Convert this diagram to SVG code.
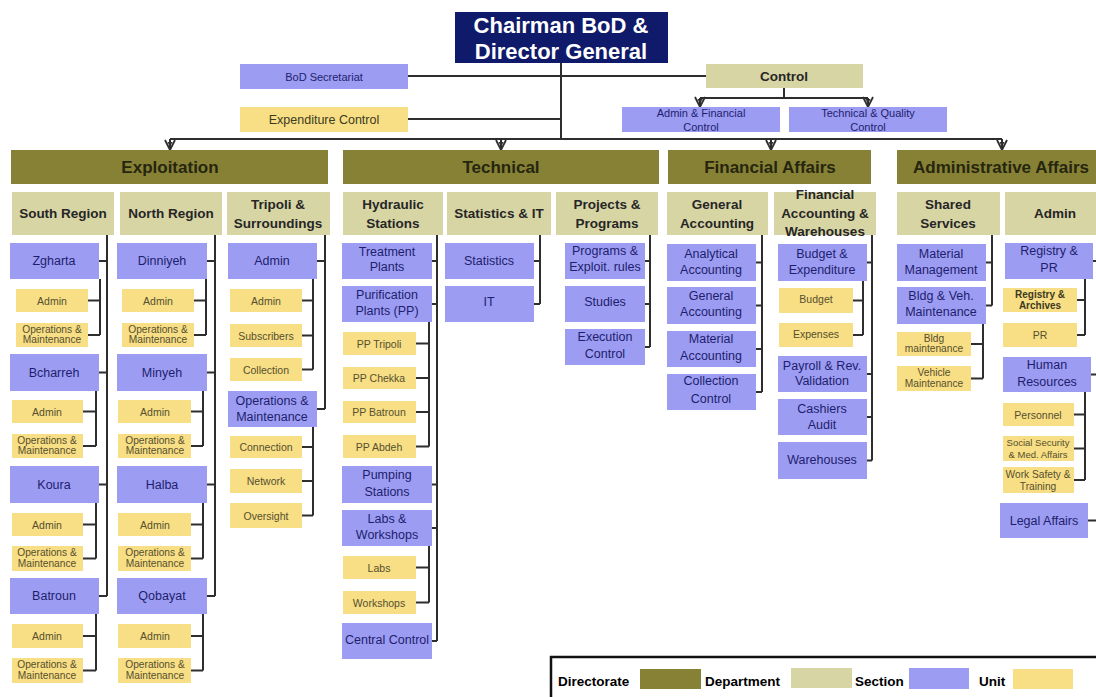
<svg xmlns="http://www.w3.org/2000/svg" width="1096" height="697" viewBox="0 0 1096 697">
<style>
text{font-family:"Liberation Sans",Arial,sans-serif;text-anchor:middle;dominant-baseline:central}
.navy{fill:#101a6a}.dir{fill:#878135}.dep{fill:#d8d5a5}.sec{fill:#9c9cf2}.unit{fill:#f8de85}
.tc{fill:#fff;font-weight:bold;font-size:22px}
.tdir{fill:#26260f;font-weight:bold;font-size:17px}
.td{fill:#262626;font-weight:bold;font-size:13.5px}
.ts{fill:#1e1e6e;font-size:12.5px}
.tsm{fill:#1e1e6e;font-size:11px}
.tu{fill:#55502e;font-size:10.5px}
.tus{fill:#55502e;font-size:10.2px}
.tl{fill:#000;font-weight:bold;font-size:13.5px;text-anchor:start}
.conn path{fill:none;stroke:#2e2e2e;stroke-width:2}
.conn path.a{marker-end:url(#arr)}
</style>
<defs>
<marker id="arr" viewBox="0 0 12 12" refX="11" refY="6" markerWidth="12" markerHeight="12" markerUnits="userSpaceOnUse" orient="auto">
<path d="M1,1 L11,6 L1,11" fill="none" stroke="#2e2e2e" stroke-width="1.8"/>
<path d="M3,3.5 L8,6 L3,8.5 Z" fill="#2e2e2e"/>
</marker>
</defs>
<rect width="1096" height="697" fill="#fff"/>

<g class="conn" id="connectors">
<path d="M408,76H706M561,63V139M408,119H561M170,139H1002M784,88V98M700,98H868"/>
<path class="a" d="M170,139V150"/>
<path class="a" d="M501,139V150"/>
<path class="a" d="M771,139V150"/>
<path class="a" d="M1002,139V150"/>
<path class="a" d="M700,98V107"/>
<path class="a" d="M868,98V107"/>
<path d="M107,235V596M99,261H107M99,372.5H107M99,484.5H107M99,596H107"/>
<path d="M100,279V335M88,300.5H100M88,335H100M96,391V446M83,411.5H96M83,446H96M96,503V558.5M83,524.5H96M83,558.5H96M96,614V670.5M83,636H96M83,670.5H96"/>
<path d="M215,235V596M207,261H215M207,372.5H215M207,484.5H215M207,596H215"/>
<path d="M206,279V335M194,300.5H206M194,335H206M203,391V446M191,411.5H203M191,446H203M203,503V558.5M191,524.5H203M191,558.5H203M203,614V670.5M191,636H203M191,670.5H203"/>
<path d="M325,235V409M317,261H325M317,409H325M313,279V369.5M302,300.5H313M302,335.5H313M302,369.5H313M313,427V515.5M302,447H313M302,481H313M302,515.5H313"/>
<path d="M437,235V641M432,261H437M432,304H437M432,484.5H437M432,528H437M432,641H437M429,322V446.5M416,343.5H429M416,378H429M416,412H429M416,446.5H429M429,546V602.5M416,567.5H429M416,602.5H429"/>
<path d="M540,235V304M534,261H540M534,304H540"/>
<path d="M650,235V347M645,261H650M645,304H650M645,347H650"/>
<path d="M762,235V392M756,262.5H762M756,305.5H762M756,349H762M756,392H762"/>
<path d="M872,235V460.5M867,262.5H872M867,374H872M867,417H872M867,460.5H872M863,281V335M853,300.5H863M853,335H863"/>
<path d="M992,235V305.5M986,262.5H992M986,305.5H992M983,324V378.5M971,344H983M971,378.5H983"/>
<path d="M1093,261H1096M1091,374.5H1096M1088,520.5H1096M1085,279V335M1077,300H1085M1077,335H1085M1085,392V480M1074,414.5H1085M1074,448.5H1085M1074,480H1085"/>
</g>

<g id="chairman"><rect class="navy" x="455" y="12" width="213" height="51"/><text class="tc" x="561" y="25">Chairman BoD &amp;</text><text class="tc" x="561" y="51">Director General</text></g>
<g id="bod-secretariat"><rect class="sec" x="240" y="64" width="168" height="25"/><text class="tsm" x="324" y="76.5">BoD Secretariat</text></g>
<g id="expenditure-control"><rect class="unit" x="240" y="107" width="168" height="25"/><text class="ts" x="324" y="119.5" style="fill:#3a3a20">Expenditure Control</text></g>
<g id="control"><rect class="dep" x="706" y="64" width="157" height="24"/><text class="td" x="784" y="76">Control</text></g>
<g id="admin-fin-control"><rect class="sec" x="622" y="107" width="158" height="25"/><text class="tsm" x="701" y="113">Admin &amp; Financial</text><text class="tsm" x="701" y="127">Control</text></g>
<g id="tech-quality-control"><rect class="sec" x="789" y="107" width="158" height="25"/><text class="tsm" x="868" y="113">Technical &amp; Quality</text><text class="tsm" x="868" y="127">Control</text></g>

<g id="exploitation"><rect class="dir" x="11" y="150" width="317" height="34"/><text class="tdir" x="170" y="167">Exploitation</text></g>
<g id="technical"><rect class="dir" x="343" y="150" width="316" height="34"/><text class="tdir" x="501" y="167">Technical</text></g>
<g id="financial-affairs"><rect class="dir" x="668" y="150" width="203" height="34"/><text class="tdir" x="770" y="167">Financial Affairs</text></g>
<g id="administrative-affairs"><rect class="dir" x="897" y="150" width="199" height="34"/><text class="tdir" x="1001" y="167">Administrative Affairs</text></g>

<g id="south-region"><rect class="dep" x="12" y="192" width="102" height="43"/><text class="td" x="63" y="213.5">South Region</text></g>
<g id="north-region"><rect class="dep" x="120" y="192" width="102" height="43"/><text class="td" x="171" y="213.5">North Region</text></g>
<g id="tripoli"><rect class="dep" x="227" y="192" width="103" height="43"/><text class="td" x="278" y="204">Tripoli &amp;</text><text class="td" x="278" y="223">Surroundings</text></g>
<g id="hydraulic"><rect class="dep" x="343" y="192" width="100" height="43"/><text class="td" x="393" y="204">Hydraulic</text><text class="td" x="393" y="223">Stations</text></g>
<g id="stats-it"><rect class="dep" x="447" y="192" width="104" height="43"/><text class="td" x="499" y="213">Statistics &amp; IT</text></g>
<g id="projects"><rect class="dep" x="556" y="192" width="102" height="43"/><text class="td" x="607" y="204">Projects &amp;</text><text class="td" x="607" y="223">Programs</text></g>
<g id="general-accounting"><rect class="dep" x="667" y="192" width="101" height="43"/><text class="td" x="717" y="204">General</text><text class="td" x="717" y="223">Accounting</text></g>
<g id="fin-acc-warehouses"><rect class="dep" x="774" y="192" width="102" height="43"/><text class="td" x="825" y="194">Financial</text><text class="td" x="825" y="213">Accounting &amp;</text><text class="td" x="825" y="231">Warehouses</text></g>
<g id="shared-services"><rect class="dep" x="897" y="192" width="103" height="43"/><text class="td" x="948" y="204">Shared</text><text class="td" x="948" y="223">Services</text></g>
<g id="admin-dept"><rect class="dep" x="1005" y="192" width="91" height="43"/><text class="td" x="1055" y="213">Admin</text></g>

<!-- South Region -->
<g id="zgharta"><rect class="sec" x="10" y="243" width="89" height="36"/><text class="ts" x="54" y="261">Zgharta</text></g>
<g id="zgharta-admin"><rect class="unit" x="16" y="289" width="72" height="23"/><text class="tu" x="52" y="300.5">Admin</text></g>
<g id="zgharta-om"><rect class="unit" x="16" y="323" width="72" height="24"/><text class="tus" x="52" y="329">Operations &amp;</text><text class="tus" x="52" y="339.5">Maintenance</text></g>
<g id="bcharreh"><rect class="sec" x="10" y="354" width="89" height="37"/><text class="ts" x="54" y="372.5">Bcharreh</text></g>
<g id="bcharreh-admin"><rect class="unit" x="12" y="400" width="71" height="23"/><text class="tu" x="47" y="411.5">Admin</text></g>
<g id="bcharreh-om"><rect class="unit" x="12" y="434" width="71" height="24"/><text class="tus" x="47" y="440">Operations &amp;</text><text class="tus" x="47" y="450.5">Maintenance</text></g>
<g id="koura"><rect class="sec" x="10" y="466" width="89" height="37"/><text class="ts" x="54" y="484.5">Koura</text></g>
<g id="koura-admin"><rect class="unit" x="12" y="513" width="71" height="23"/><text class="tu" x="47" y="524.5">Admin</text></g>
<g id="koura-om"><rect class="unit" x="12" y="546" width="71" height="25"/><text class="tus" x="47" y="552.5">Operations &amp;</text><text class="tus" x="47" y="563">Maintenance</text></g>
<g id="batroun"><rect class="sec" x="10" y="578" width="89" height="36"/><text class="ts" x="54" y="596">Batroun</text></g>
<g id="batroun-admin"><rect class="unit" x="12" y="624" width="71" height="24"/><text class="tu" x="47" y="636">Admin</text></g>
<g id="batroun-om"><rect class="unit" x="12" y="658" width="71" height="25"/><text class="tus" x="47" y="664.5">Operations &amp;</text><text class="tus" x="47" y="675">Maintenance</text></g>

<!-- North Region -->
<g id="dinniyeh"><rect class="sec" x="117" y="243" width="90" height="36"/><text class="ts" x="162" y="261">Dinniyeh</text></g>
<g id="dinniyeh-admin"><rect class="unit" x="122" y="289" width="72" height="23"/><text class="tu" x="158" y="300.5">Admin</text></g>
<g id="dinniyeh-om"><rect class="unit" x="122" y="323" width="72" height="24"/><text class="tus" x="158" y="329">Operations &amp;</text><text class="tus" x="158" y="339.5">Maintenance</text></g>
<g id="minyeh"><rect class="sec" x="117" y="354" width="90" height="37"/><text class="ts" x="162" y="372.5">Minyeh</text></g>
<g id="minyeh-admin"><rect class="unit" x="118" y="400" width="73" height="23"/><text class="tu" x="155" y="411.5">Admin</text></g>
<g id="minyeh-om"><rect class="unit" x="118" y="434" width="73" height="24"/><text class="tus" x="155" y="440">Operations &amp;</text><text class="tus" x="155" y="450.5">Maintenance</text></g>
<g id="halba"><rect class="sec" x="117" y="466" width="90" height="37"/><text class="ts" x="162" y="484.5">Halba</text></g>
<g id="halba-admin"><rect class="unit" x="118" y="513" width="73" height="23"/><text class="tu" x="155" y="524.5">Admin</text></g>
<g id="halba-om"><rect class="unit" x="118" y="546" width="73" height="25"/><text class="tus" x="155" y="552.5">Operations &amp;</text><text class="tus" x="155" y="563">Maintenance</text></g>
<g id="qobayat"><rect class="sec" x="117" y="578" width="90" height="36"/><text class="ts" x="162" y="596">Qobayat</text></g>
<g id="qobayat-admin"><rect class="unit" x="118" y="624" width="73" height="24"/><text class="tu" x="155" y="636">Admin</text></g>
<g id="qobayat-om"><rect class="unit" x="118" y="658" width="73" height="25"/><text class="tus" x="155" y="664.5">Operations &amp;</text><text class="tus" x="155" y="675">Maintenance</text></g>

<!-- Tripoli -->
<g id="tripoli-admin"><rect class="sec" x="228" y="243" width="89" height="36"/><text class="ts" x="272" y="261">Admin</text></g>
<g id="tripoli-admin-admin"><rect class="unit" x="230" y="289" width="72" height="23"/><text class="tu" x="266" y="300.5">Admin</text></g>
<g id="subscribers"><rect class="unit" x="230" y="324" width="72" height="23"/><text class="tu" x="266" y="335.5">Subscribers</text></g>
<g id="collection"><rect class="unit" x="230" y="358" width="72" height="23"/><text class="tu" x="266" y="369.5">Collection</text></g>
<g id="tripoli-om"><rect class="sec" x="228" y="391" width="89" height="36"/><text class="ts" x="272" y="401">Operations &amp;</text><text class="ts" x="272" y="416.5">Maintenance</text></g>
<g id="connection"><rect class="unit" x="230" y="436" width="72" height="22"/><text class="tu" x="266" y="447">Connection</text></g>
<g id="network"><rect class="unit" x="230" y="469" width="72" height="24"/><text class="tu" x="266" y="481">Network</text></g>
<g id="oversight"><rect class="unit" x="230" y="503" width="72" height="25"/><text class="tu" x="266" y="515.5">Oversight</text></g>

<!-- Hydraulic Stations -->
<g id="treatment-plants"><rect class="sec" x="342" y="243" width="90" height="36"/><text class="ts" x="387" y="252">Treatment</text><text class="ts" x="387" y="267">Plants</text></g>
<g id="purification-plants"><rect class="sec" x="342" y="286" width="90" height="36"/><text class="ts" x="387" y="295">Purification</text><text class="ts" x="387" y="311">Plants (PP)</text></g>
<g id="pp-tripoli"><rect class="unit" x="343" y="332" width="73" height="23"/><text class="tu" x="379" y="343.5">PP Tripoli</text></g>
<g id="pp-chekka"><rect class="unit" x="343" y="367" width="73" height="22"/><text class="tu" x="379" y="378">PP Chekka</text></g>
<g id="pp-batroun"><rect class="unit" x="343" y="401" width="73" height="22"/><text class="tu" x="379" y="412">PP Batroun</text></g>
<g id="pp-abdeh"><rect class="unit" x="343" y="435" width="73" height="23"/><text class="tu" x="379" y="446.5">PP Abdeh</text></g>
<g id="pumping-stations"><rect class="sec" x="342" y="466" width="90" height="37"/><text class="ts" x="387" y="475">Pumping</text><text class="ts" x="387" y="492">Stations</text></g>
<g id="labs-workshops"><rect class="sec" x="342" y="510" width="90" height="36"/><text class="ts" x="387" y="519">Labs &amp;</text><text class="ts" x="387" y="535">Workshops</text></g>
<g id="labs"><rect class="unit" x="343" y="556" width="73" height="23"/><text class="tu" x="379" y="567.5">Labs</text></g>
<g id="workshops"><rect class="unit" x="343" y="591" width="73" height="23"/><text class="tu" x="379" y="602.5">Workshops</text></g>
<g id="central-control"><rect class="sec" x="342" y="623" width="90" height="36"/><text class="ts" x="387" y="640">Central Control</text></g>

<!-- Statistics & IT -->
<g id="statistics"><rect class="sec" x="445" y="243" width="89" height="36"/><text class="ts" x="489" y="261">Statistics</text></g>
<g id="it"><rect class="sec" x="445" y="286" width="89" height="36"/><text class="ts" x="489" y="302">IT</text></g>

<!-- Projects & Programs -->
<g id="programs"><rect class="sec" x="565" y="243" width="80" height="36"/><text class="ts" x="605" y="251">Programs &amp;</text><text class="ts" x="605" y="267">Exploit. rules</text></g>
<g id="studies"><rect class="sec" x="565" y="286" width="80" height="36"/><text class="ts" x="605" y="302">Studies</text></g>
<g id="execution-control"><rect class="sec" x="565" y="329" width="80" height="36"/><text class="ts" x="605" y="337">Execution</text><text class="ts" x="605" y="354">Control</text></g>

<!-- General Accounting -->
<g id="analytical-accounting"><rect class="sec" x="667" y="244" width="89" height="37"/><text class="ts" x="711" y="254">Analytical</text><text class="ts" x="711" y="270">Accounting</text></g>
<g id="general-accounting-sec"><rect class="sec" x="667" y="287" width="89" height="37"/><text class="ts" x="711" y="296">General</text><text class="ts" x="711" y="312">Accounting</text></g>
<g id="material-accounting"><rect class="sec" x="667" y="331" width="89" height="36"/><text class="ts" x="711" y="339">Material</text><text class="ts" x="711" y="356">Accounting</text></g>
<g id="collection-control"><rect class="sec" x="667" y="374" width="89" height="36"/><text class="ts" x="711" y="381">Collection</text><text class="ts" x="711" y="399">Control</text></g>

<!-- Financial Accounting & Warehouses -->
<g id="budget-expenditure"><rect class="sec" x="778" y="244" width="89" height="37"/><text class="ts" x="822" y="254">Budget &amp;</text><text class="ts" x="822" y="270">Expenditure</text></g>
<g id="budget"><rect class="unit" x="779" y="288" width="74" height="25"/><text class="tu" x="816" y="299">Budget</text></g>
<g id="expenses"><rect class="unit" x="779" y="323" width="74" height="24"/><text class="tu" x="816" y="333.5">Expenses</text></g>
<g id="payroll"><rect class="sec" x="778" y="356" width="89" height="36"/><text class="ts" x="822" y="366">Payroll &amp; Rev.</text><text class="ts" x="822" y="381">Validation</text></g>
<g id="cashiers-audit"><rect class="sec" x="778" y="399" width="89" height="36"/><text class="ts" x="822" y="409">Cashiers</text><text class="ts" x="822" y="425">Audit</text></g>
<g id="warehouses"><rect class="sec" x="778" y="442" width="89" height="37"/><text class="ts" x="822" y="460">Warehouses</text></g>

<!-- Shared Services -->
<g id="material-management"><rect class="sec" x="897" y="244" width="89" height="37"/><text class="ts" x="941" y="254">Material</text><text class="ts" x="941" y="270">Management</text></g>
<g id="bldg-veh"><rect class="sec" x="897" y="287" width="89" height="37"/><text class="ts" x="941" y="296">Bldg &amp; Veh.</text><text class="ts" x="941" y="312">Maintenance</text></g>
<g id="bldg-maintenance"><rect class="unit" x="897" y="332" width="74" height="24"/><text class="tus" x="934" y="338">Bldg</text><text class="tus" x="934" y="348.5">maintenance</text></g>
<g id="vehicle-maintenance"><rect class="unit" x="897" y="366" width="74" height="25"/><text class="tus" x="934" y="372.5">Vehicle</text><text class="tus" x="934" y="383">Maintenance</text></g>

<!-- Admin -->
<g id="registry-pr"><rect class="sec" x="1005" y="243" width="88" height="36"/><text class="ts" x="1049" y="251">Registry &amp;</text><text class="ts" x="1049" y="268">PR</text></g>
<g id="registry-archives"><rect class="unit" x="1003" y="288" width="74" height="24"/><text class="tus" x="1040" y="294.5" style="font-weight:bold;fill:#3c3a22;font-size:10px">Registry &amp;</text><text class="tus" x="1040" y="305" style="font-weight:bold;fill:#3c3a22;font-size:10px">Archives</text></g>
<g id="pr"><rect class="unit" x="1003" y="323" width="74" height="24"/><text class="tu" x="1040" y="334.5">PR</text></g>
<g id="human-resources"><rect class="sec" x="1003" y="357" width="88" height="35"/><text class="ts" x="1047" y="365">Human</text><text class="ts" x="1047" y="382">Resources</text></g>
<g id="personnel"><rect class="unit" x="1003" y="403" width="71" height="23"/><text class="tu" x="1038" y="414.5">Personnel</text></g>
<g id="social-security"><rect class="unit" x="1003" y="436" width="71" height="25"/><text class="tus" x="1038" y="442.5" style="font-size:9.5px">Social Security</text><text class="tus" x="1038" y="454" style="font-size:9.5px">&amp; Med. Affairs</text></g>
<g id="work-safety"><rect class="unit" x="1003" y="467" width="71" height="26"/><text class="tus" x="1038" y="474">Work Safety &amp;</text><text class="tus" x="1038" y="486">Training</text></g>
<g id="legal-affairs"><rect class="sec" x="1000" y="503" width="88" height="35"/><text class="ts" x="1044" y="520.5">Legal Affairs</text></g>

<!-- Legend -->
<g id="legend">
<rect x="551" y="657" width="560" height="60" fill="#fff" stroke="#111" stroke-width="2.5"/>
<text class="tl" x="558" y="681">Directorate</text><rect class="dir" x="640" y="669" width="61" height="20"/>
<text class="tl" x="705" y="681">Department</text><rect class="dep" x="791" y="668" width="61" height="20"/>
<text class="tl" x="855" y="681">Section</text><rect class="sec" x="909" y="668" width="60" height="21"/>
<text class="tl" x="979" y="681">Unit</text><rect class="unit" x="1013" y="669" width="60" height="20"/>
</g>
</svg>
